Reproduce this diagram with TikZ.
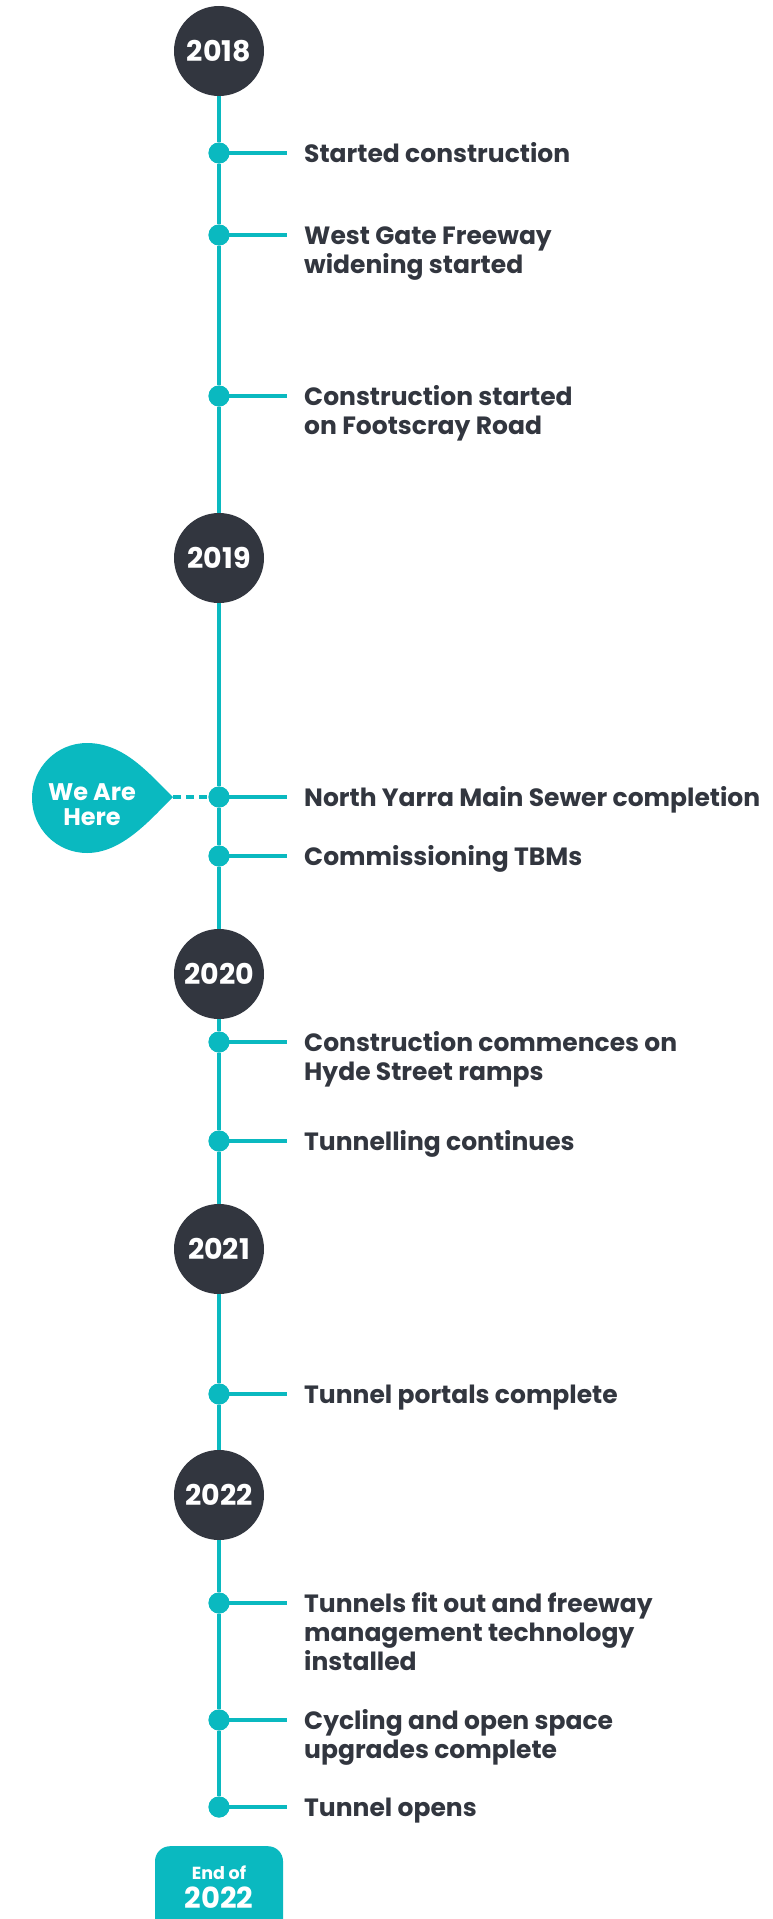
\documentclass[tikz,border=0pt]{standalone}
\usepackage{fontspec}
\setmainfont{Poppins}
\definecolor{vteal}{HTML}{0AB9C0}
\definecolor{vdark}{HTML}{32363F}
\newcommand{\lblsize}{\fontsize{25}{29}\selectfont\bfseries}
\begin{document}
\begin{tikzpicture}[x=1pt,y=-1pt,
  yearnode/.style={circle,fill=vdark,minimum size=90pt,inner sep=0pt,text=white,font=\fontsize{28.5}{30}\selectfont\bfseries},
  evdot/.style={circle,fill=vteal,minimum size=21pt,inner sep=0pt},
  spine/.style={draw=vteal,line width=4.5pt},
  stub/.style={draw=vteal,line width=4.5pt},
  lbl/.style={anchor=north west,inner sep=0pt,align=left,text=vdark,font=\lblsize},
]
\useasboundingbox (0,0) rectangle (772,1919);

% year circles
\node[yearnode] (y18) at (219,51) {2018};
\node[yearnode] (y19) at (219,558) {2019};
\node[yearnode] (y20) at (219,974) {2020};
\node[yearnode] (y21) at (219,1249) {2021};
\node[yearnode] (y22) at (219,1495) {2022};

% event dots
\node[evdot] (d1) at (219,153) {};
\node[evdot] (d2) at (219,235) {};
\node[evdot] (d3) at (219,396) {};
\node[evdot] (d4) at (219,797) {};
\node[evdot] (d5) at (219,856) {};
\node[evdot] (d6) at (219,1042) {};
\node[evdot] (d7) at (219,1141) {};
\node[evdot] (d8) at (219,1394) {};
\node[evdot] (d9) at (219,1603) {};
\node[evdot] (d10) at (219,1720) {};
\node[evdot] (d11) at (219,1807) {};

% spine
\draw[spine] (y18) -- (d1) -- (d2) -- (d3) -- (y19) -- (d4) -- (d5) -- (y20) -- (d6) -- (d7) -- (y21) -- (d8) -- (y22) -- (d9) -- (d10) -- (d11);

% stubs
\foreach \d/\yy in {d1/153,d2/235,d3/396,d4/797,d5/856,d6/1042,d7/1141,d8/1394,d9/1603,d10/1720,d11/1807}{
  \coordinate (e\d) at (287,\yy);
  \draw[stub] (\d.center) -- (e\d);
}
% redraw dots on top
\foreach \d/\yy in {d1/153,d2/235,d3/396,d4/797,d5/856,d6/1042,d7/1141,d8/1394,d9/1603,d10/1720,d11/1807}{
  \fill[vteal] (219,\yy) circle (10.5pt);
}

% labels (top = dot - 11.5)
\node[lbl] (t1) at (304,141.5) {\strut Started construction};
\node[lbl] (t2) at (304,223.5) {\strut West Gate Freeway\\widening started};
\node[lbl] (t3) at (304,384.5) {\strut Construction started\\on Footscray Road};
\node[lbl] (t4) at (304,785.5) {\strut North Yarra Main Sewer completion};
\node[lbl] (t5) at (304,844.5) {\strut Commissioning TBMs};
\node[lbl] (t6) at (304,1030.5) {\strut Construction commences on\\Hyde Street ramps};
\node[lbl] (t7) at (304,1129.5) {\strut Tunnelling continues};
\node[lbl] (t8) at (304,1382.5) {\strut Tunnel portals complete};
\node[lbl] (t9) at (304,1591.5) {\strut Tunnels fit out and freeway\\management technology\\installed};
\node[lbl] (t10) at (304,1708.5) {\strut Cycling and open space\\upgrades complete};
\node[lbl] (t11) at (304,1795.5) {\strut Tunnel opens};

% We Are Here marker
\coordinate (tip) at (173,797);
\fill[vteal] (tip) .. controls (150,775) and (125,743) .. (87,743)
  arc[start angle=270,end angle=90,radius=55]
  .. controls (122,853) and (150,820) .. (tip) -- cycle;
\node[text=white,align=center,inner sep=0pt,font=\fontsize{24}{25}\selectfont\bfseries] (here) at (92,805) {We Are\\Here};
\draw[draw=vteal,line width=4pt,dash pattern=on 8pt off 5pt] (tip) -- (d4);

% End of 2022 box
\node[fill=vteal,rounded corners=15pt,minimum width=128pt,minimum height=110pt,anchor=north,inner sep=0pt] (endbox) at (219,1846) {};
\node[text=white,inner sep=0pt,font=\fontsize{17.5}{20}\selectfont\bfseries] (endof) at (219,1873) {End of};
\node[text=white,inner sep=0pt,font=\fontsize{29}{30}\selectfont\bfseries] (endyr) at (219,1898) {2022};
\end{tikzpicture}
\end{document}
